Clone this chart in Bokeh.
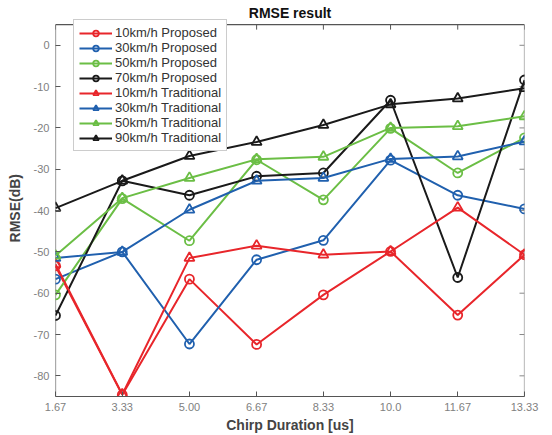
import math
from bokeh.plotting import figure
from bokeh.models import FixedTicker, Legend, LegendItem, Range1d, Label
from bokeh.embed import file_html
from bokeh.resources import INLINE

# ---- data ----
x_vals = [1.67, 3.33, 5.00, 6.67, 8.33, 10.0, 11.67, 13.33]
x_labels = ["1.67", "3.33", "5.00", "6.67", "8.33", "10.0", "11.67", "13.33"]
y_ticks = [0, -10, -20, -30, -40, -50, -60, -70, -80]
y_min, y_max = -85, 5

p10_proposed = [-53.4, -84.6, -56.6, -72.4, -60.4, -49.9, -65.3, -50.7]
p30_proposed = [-56.6, -50.0, -72.3, -51.9, -47.2, -27.8, -36.3, -39.6]
p50_proposed = [-60.4, -37.1, -47.3, -27.7, -37.4, -20.1, -30.9, -22.4]
p70_proposed = [-65.4, -32.8, -36.3, -31.7, -30.9, -13.3, -56.2, -8.4]
t10_traditional = [-53.0, -84.5, -51.5, -48.5, -50.7, -49.9, -39.3, -50.7]
t30_traditional = [-51.5, -50.0, -39.8, -32.8, -32.1, -27.5, -26.9, -23.3]
t50_traditional = [-50.9, -37.0, -32.1, -27.6, -27.0, -20.0, -19.6, -17.2]
t90_traditional = [-39.4, -32.8, -26.8, -23.4, -19.3, -14.3, -12.9, -10.4]

series_names = ["10km/h Proposed", "30km/h Proposed", "50km/h Proposed", "70km/h Proposed",
                "10km/h Traditional", "30km/h Traditional", "50km/h Traditional", "90km/h Traditional"]
series_values = [p10_proposed, p30_proposed, p50_proposed, p70_proposed,
                 t10_traditional, t30_traditional, t50_traditional, t90_traditional]

RED = "#E8262B"
BLUE = "#2060AE"
GREEN = "#6BBE45"
BLACK = "#1A1A1A"
series_colors = [RED, BLUE, GREEN, BLACK, RED, BLUE, GREEN, BLACK]
series_markers = ["circle"] * 4 + ["triangle"] * 4

FONT = "Liberation Sans"

# frame spans the full canvas height above the x axis, so the legend and
# title (which sit above the axes box in the reference) are not clipped
FRAME_TOP_PAD_PX = 24.0
FRAME_H = 394.0
px_per_unit = (FRAME_H - FRAME_TOP_PAD_PX) / (y_max - y_min)
y_top = y_max + FRAME_TOP_PAD_PX / px_per_unit

p = figure(width=548, height=435, output_backend="svg", toolbar_location=None,
           x_range=Range1d(x_vals[0], x_vals[-1]), y_range=Range1d(y_min, y_top),
           min_border_left=55, min_border_right=24, min_border_top=0, min_border_bottom=0)

p.grid.visible = False
p.outline_line_color = None
p.background_fill_color = "white"
p.border_fill_color = "white"

AX_COL = "#555555"
xa = p.xaxis[0]
ya = p.yaxis[0]
xa.ticker = FixedTicker(ticks=x_vals)
xa.major_label_overrides = {v: s for v, s in zip(x_vals, x_labels)}
ya.ticker = FixedTicker(ticks=y_ticks)
ya.major_label_overrides = {v: str(v) for v in y_ticks}
xa.axis_label = "Chirp Duration [us]"
ya.axis_label = "RMSE(dB)" + "\u00a0" * 5
for ax in (xa, ya):
    ax.axis_line_color = AX_COL
    ax.axis_line_width = 1.2
    ax.major_tick_line_color = AX_COL
    ax.major_tick_in = 5
    ax.major_tick_out = 0
    ax.minor_tick_line_color = None
    ax.major_label_text_font = FONT
    ax.major_label_text_font_size = "11px"
    ax.major_label_text_color = "#808080"
    ax.axis_label_text_font = FONT
    ax.axis_label_text_font_size = "14px"
    ax.axis_label_text_font_style = "bold"
    ax.axis_label_text_color = "#444444"
ya.axis_line_color = None
xa.major_label_standoff = 6
xa.axis_label_standoff = 3
ya.major_label_standoff = 6
ya.axis_label_standoff = 8

# axes box: left, top, right edges and inward ticks on top / right
p.segment(x0=[x_vals[0]], y0=[y_min], x1=[x_vals[0]], y1=[y_max], line_color=AX_COL, line_width=1.2)
p.segment(x0=[x_vals[0]], y0=[y_max], x1=[x_vals[-1]], y1=[y_max], line_color=AX_COL, line_width=1.2)
p.segment(x0=[x_vals[-1]], y0=[y_min], x1=[x_vals[-1]], y1=[y_max], line_color="#888888", line_width=1.2)
p.ray(x=x_vals, y=[y_max] * len(x_vals), length=5, length_units="screen",
      angle=-math.pi / 2, line_color=AX_COL, line_width=1)
p.ray(x=[x_vals[-1]] * len(y_ticks), y=y_ticks, length=5, length_units="screen",
      angle=math.pi, line_color="#888888", line_width=1)

# title
title_y = y_max + (FRAME_TOP_PAD_PX - 12.5) / px_per_unit
p.add_layout(Label(x=(x_vals[0] + x_vals[-1]) / 2, y=title_y, text="RMSE result",
                   text_font=FONT, text_font_size="14px", text_font_style="bold",
                   text_color="#111111", text_align="center", text_baseline="middle"))

items = []
for name, vals, col, mk in zip(series_names, series_values, series_colors, series_markers):
    ln = p.line(x_vals, vals, line_color=col, line_width=2)
    sc = p.scatter(x_vals, vals, marker=mk, size=9 if mk == "circle" else 10,
                   line_color=col, line_width=1.8, fill_alpha=0)
    items.append(LegendItem(label=name, renderers=[ln, sc]))

legend = Legend(items=items, location=(18, 245))
legend.label_text_font = FONT
legend.label_text_font_size = "13px"
legend.label_text_color = "#333333"
legend.border_line_color = "#999999"
legend.border_line_width = 1
legend.background_fill_color = "white"
legend.background_fill_alpha = 1
legend.glyph_width = 33
legend.glyph_height = 14
legend.label_height = 14
legend.spacing = 0
legend.padding = 5
legend.margin = 0
legend.label_standoff = 3
p.add_layout(legend, "center")

open("out.html", "w").write(file_html(p, INLINE))
